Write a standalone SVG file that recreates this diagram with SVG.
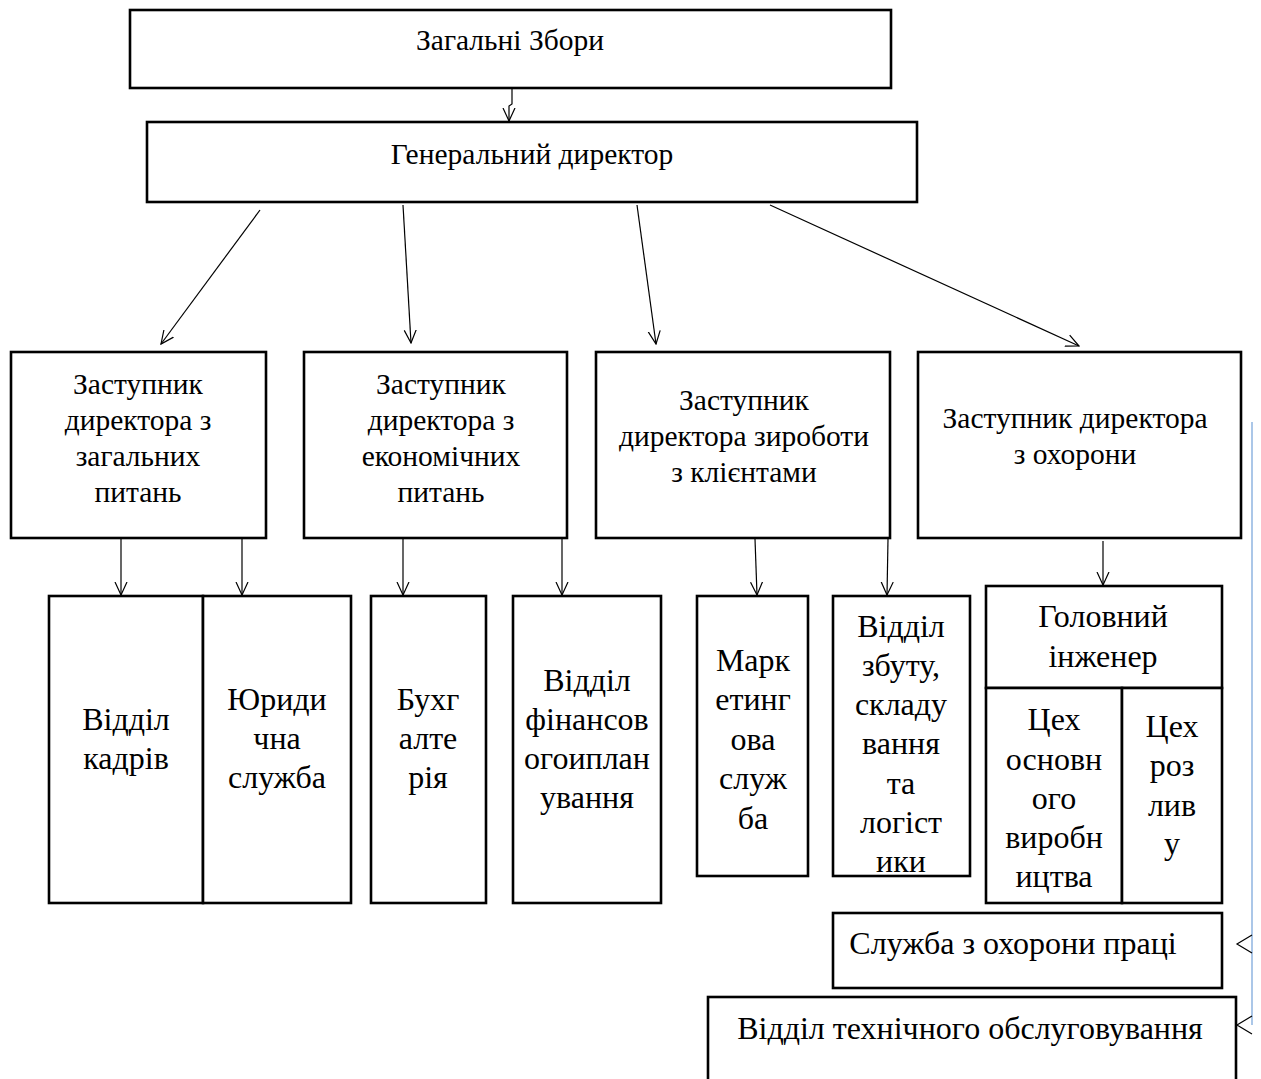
<svg xmlns="http://www.w3.org/2000/svg" width="1261" height="1079" viewBox="0 0 1261 1079">
<defs>
<marker id="ah" viewBox="0 0 14 14" refX="13" refY="7" markerWidth="14" markerHeight="14" markerUnits="userSpaceOnUse" orient="auto">
<path d="M0,1 L13,7 L0,13" fill="none" stroke="#000" stroke-width="1.2"/>
</marker>
</defs>
<style>
.box{fill:#fff;stroke:#000;stroke-width:2.6}
.t{font-family:"Liberation Serif","Times New Roman",serif;font-size:29.5px;fill:#000;text-anchor:middle}
.b{font-family:"Liberation Serif","Times New Roman",serif;font-size:32px;fill:#000;text-anchor:middle}
.c{fill:none;stroke:#000;stroke-width:1.2}
</style>
<rect width="1261" height="1079" fill="#fff"/>
<g id="n1"><rect class="box" x="130" y="10" width="761" height="78"/><text class="t" x="510" y="50">Загальні Збори</text></g>
<g id="n2"><rect class="box" x="147" y="122" width="770" height="80"/><text class="t" x="532" y="164">Генеральний директор</text></g>
<g id="n3"><rect class="box" x="11" y="352" width="255" height="186"/>
<text class="t" x="138" y="394">Заступник</text><text class="t" x="138" y="430">директора з</text><text class="t" x="138" y="466">загальних</text><text class="t" x="138" y="502">питань</text></g>
<g id="n4"><rect class="box" x="304" y="352" width="263" height="186"/>
<text class="t" x="441" y="394">Заступник</text><text class="t" x="441" y="430">директора з</text><text class="t" x="441" y="466">економічних</text><text class="t" x="441" y="502">питань</text></g>
<g id="n5"><rect class="box" x="596" y="352" width="294" height="186"/>
<text class="t" x="744" y="410">Заступник</text><text class="t" x="744" y="446">директора зироботи</text><text class="t" x="744" y="482">з клієнтами</text></g>
<g id="n6"><rect class="box" x="918" y="352" width="323" height="186"/>
<text class="t" x="1075" y="428">Заступник директора</text><text class="t" x="1075" y="464">з охорони</text></g>
<g id="n7"><rect class="box" x="49" y="596" width="154" height="307"/>
<text class="b" x="126" y="730">Відділ</text><text class="b" x="126" y="769">кадрів</text></g>
<g id="n8"><rect class="box" x="203" y="596" width="148" height="307"/>
<text class="b" x="277" y="710">Юриди</text><text class="b" x="277" y="749">чна</text><text class="b" x="277" y="788">служба</text></g>
<g id="n9"><rect class="box" x="371" y="596" width="115" height="307"/>
<text class="b" x="428" y="710">Бухг</text><text class="b" x="428" y="749">алте</text><text class="b" x="428" y="788">рія</text></g>
<g id="n10"><rect class="box" x="513" y="596" width="148" height="307"/>
<text class="b" x="587" y="691">Відділ</text><text class="b" x="587" y="730">фінансов</text><text class="b" x="587" y="769">огоиплан</text><text class="b" x="587" y="808">ування</text></g>
<g id="n11"><rect class="box" x="697" y="596" width="111" height="280"/>
<text class="b" x="753" y="671">Марк</text><text class="b" x="753" y="710">етинг</text><text class="b" x="753" y="750">ова</text><text class="b" x="753" y="789">служ</text><text class="b" x="753" y="829">ба</text></g>
<g id="n12"><rect class="box" x="833" y="596" width="137" height="280"/>
<text class="b" x="901" y="637">Відділ</text><text class="b" x="901" y="676">збуту,</text><text class="b" x="901" y="715">складу</text><text class="b" x="901" y="754">вання</text><text class="b" x="901" y="794">та</text><text class="b" x="901" y="833">логіст</text><text class="b" x="901" y="872">ики</text></g>
<g id="n13"><rect class="box" x="986" y="586" width="236" height="102"/>
<text class="b" x="1103" y="627">Головний</text><text class="b" x="1103" y="667">інженер</text></g>
<g id="n14"><rect class="box" x="986" y="688" width="136" height="215"/>
<text class="b" x="1054" y="730">Цех</text><text class="b" x="1054" y="770">основн</text><text class="b" x="1054" y="809">ого</text><text class="b" x="1054" y="848">виробн</text><text class="b" x="1054" y="887">ицтва</text></g>
<g id="n15"><rect class="box" x="1122" y="688" width="100" height="215"/>
<text class="b" x="1172" y="737">Цех</text><text class="b" x="1172" y="776">роз</text><text class="b" x="1172" y="816">лив</text><text class="b" x="1172" y="854">у</text></g>
<g id="n16"><rect class="box" x="833" y="913" width="389" height="75"/>
<text class="b" x="1013" y="954">Служба з охорони праці</text></g>
<g id="n17"><rect class="box" x="708" y="997" width="528" height="95"/>
<text class="b" x="970" y="1039">Відділ технічного обслуговування</text></g>
<g id="connectors">
<polyline class="c" points="512,88 512,104 509,106 509,121" marker-end="url(#ah)"/>
<line class="c" x1="260" y1="210" x2="161" y2="344" marker-end="url(#ah)"/>
<line class="c" x1="403" y1="205" x2="411" y2="343" marker-end="url(#ah)"/>
<line class="c" x1="637" y1="205" x2="656" y2="344" marker-end="url(#ah)"/>
<line class="c" x1="770" y1="205" x2="1079" y2="346" marker-end="url(#ah)"/>
<line class="c" x1="121" y1="539" x2="121" y2="595" marker-end="url(#ah)"/>
<line class="c" x1="242" y1="539" x2="242" y2="595" marker-end="url(#ah)"/>
<line class="c" x1="403" y1="539" x2="403" y2="595" marker-end="url(#ah)"/>
<line class="c" x1="562" y1="539" x2="562" y2="595" marker-end="url(#ah)"/>
<line class="c" x1="755" y1="539" x2="757" y2="595" marker-end="url(#ah)"/>
<line class="c" x1="888" y1="539" x2="887" y2="595" marker-end="url(#ah)"/>
<line class="c" x1="1103" y1="541" x2="1103" y2="585" marker-end="url(#ah)"/>
<line x1="1252" y1="422" x2="1252" y2="1025" stroke="#8fb4e0" stroke-width="1.5"/>
<polyline class="c" points="1252,935 1237,944 1252,953"/>
<polyline class="c" points="1252,1016 1237,1025 1252,1034"/>
</g>
</svg>
